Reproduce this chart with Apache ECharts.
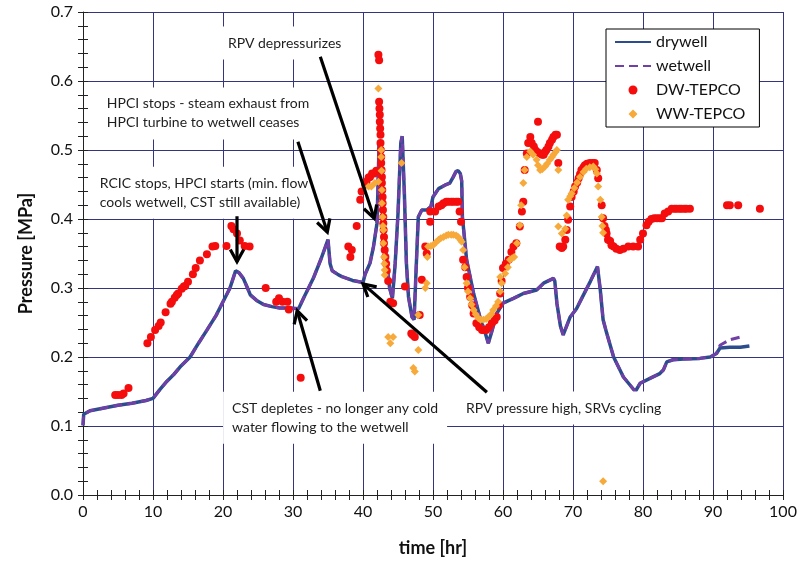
<!DOCTYPE html>
<html><head><meta charset="utf-8">
<script src="https://cdn.jsdelivr.net/npm/echarts@6/dist/echarts.min.js"></script>
<style>html,body{margin:0;padding:0;background:#fff}#c{width:800px;height:567px}</style>
</head><body><div id="c"></div><script>
const FONT = 'Lato, "Open Sans", sans-serif';

// ---- data (time [hr], pressure [MPa]) ----
const drywell = [[0,0.101],[0.1,0.117],[1,0.122],[3,0.126],[5,0.13],[7,0.133],[9,0.137],[10,0.14],[11,0.153],[12,0.165],[13,0.175],[14,0.187],[15.3,0.2],[16.5,0.22],[17.7,0.239],[19,0.26],[20,0.28],[21,0.3],[21.8,0.325],[22.3,0.322],[22.9,0.314],[23.5,0.3],[23.9,0.29],[24.8,0.282],[25.8,0.276],[27,0.273],[28.1,0.271],[29.5,0.271],[30.8,0.27],[31.5,0.285],[32.9,0.314],[34,0.342],[35,0.37],[35.3,0.335],[35.6,0.325],[36.5,0.319],[37.1,0.316],[38.5,0.311],[40,0.308],[40.3,0.32],[41,0.336],[41.5,0.36],[42,0.394],[42.15,0.45],[42.3,0.51],[42.6,0.47],[43.0,0.38],[43.4,0.336],[43.8,0.3],[44.2,0.285],[44.6,0.336],[45.0,0.408],[45.4,0.51],[45.6,0.52],[45.9,0.44],[46.2,0.336],[46.5,0.287],[47.0,0.258],[47.3,0.254],[47.6,0.33],[47.9,0.403],[48.4,0.413],[49.1,0.413],[49.7,0.418],[50.0,0.432],[50.8,0.444],[51.7,0.449],[52.4,0.452],[52.9,0.461],[53.3,0.469],[53.6,0.47],[53.9,0.466],[54.1,0.455],[54.2,0.403],[54.8,0.341],[55.8,0.292],[56.7,0.258],[57.4,0.237],[57.9,0.22],[58.4,0.237],[59.1,0.263],[60.0,0.278],[61.5,0.285],[62.9,0.292],[64,0.295],[64.8,0.297],[65.8,0.307],[67.2,0.314],[67.4,0.31],[67.7,0.278],[68.2,0.245],[68.6,0.232],[69.6,0.258],[70.5,0.27],[71.5,0.29],[72.5,0.31],[73.5,0.331],[73.9,0.297],[74.3,0.254],[74.8,0.235],[75.8,0.2],[77.2,0.171],[78.9,0.15],[79.6,0.162],[81,0.169],[82.4,0.176],[82.9,0.181],[83.4,0.193],[84.3,0.196],[85.8,0.197],[88.1,0.198],[89.6,0.2],[90.5,0.205],[91,0.213],[92.4,0.214],[93.9,0.214],[95.2,0.216]];

const wetwell = [[0,0.101],[0.1,0.117],[1,0.122],[3,0.126],[5,0.13],[7,0.133],[9,0.137],[10,0.14],[11,0.153],[12,0.165],[13,0.175],[14,0.187],[15.3,0.2],[16.5,0.22],[17.7,0.239],[19,0.26],[20,0.28],[21,0.3],[21.8,0.325],[22.3,0.322],[22.9,0.314],[23.5,0.3],[23.9,0.29],[24.8,0.282],[25.8,0.276],[27,0.273],[28.1,0.271],[29.5,0.271],[30.8,0.27],[31.5,0.285],[32.9,0.314],[34,0.342],[35,0.37],[35.3,0.335],[35.6,0.325],[36.5,0.319],[37.1,0.316],[38.5,0.311],[40,0.308],[40.3,0.32],[41,0.336],[41.5,0.36],[42,0.394],[42.15,0.45],[42.3,0.51],[42.6,0.47],[43.0,0.38],[43.4,0.336],[43.8,0.3],[44.2,0.285],[44.6,0.336],[45.0,0.408],[45.4,0.51],[45.6,0.52],[45.9,0.44],[46.2,0.336],[46.5,0.287],[47.0,0.258],[47.3,0.254],[47.6,0.33],[47.9,0.403],[48.4,0.413],[49.1,0.413],[49.7,0.418],[50.0,0.432],[50.8,0.444],[51.7,0.449],[52.4,0.452],[52.9,0.461],[53.3,0.469],[53.6,0.47],[53.9,0.466],[54.1,0.455],[54.2,0.403],[54.8,0.341],[55.8,0.292],[56.7,0.258],[57.4,0.237],[57.9,0.22],[58.4,0.237],[59.1,0.263],[60.0,0.278],[61.5,0.285],[62.9,0.292],[64,0.295],[64.8,0.297],[65.8,0.307],[67.2,0.314],[67.4,0.31],[67.7,0.278],[68.2,0.245],[68.6,0.232],[69.6,0.258],[70.5,0.27],[71.5,0.29],[72.5,0.31],[73.5,0.331],[73.9,0.297],[74.3,0.254],[74.8,0.235],[75.8,0.2],[77.2,0.171],[78.9,0.15],[79.6,0.162],[81,0.169],[82.4,0.176],[82.9,0.181],[83.4,0.193],[84.3,0.196],[85.8,0.197],[88.1,0.198],[89.6,0.2],[90.5,0.205],[91,0.217],[92.4,0.225],[93.9,0.229]];

const dwTepco = [[4.6,0.145],[5.0,0.145],[5.5,0.145],[5.8,0.147],[6.5,0.155],[9.2,0.22],[9.7,0.229],[10.3,0.239],[10.8,0.245],[11.1,0.25],[11.8,0.265],[12.5,0.277],[12.7,0.28],[13.1,0.286],[13.4,0.29],[13.6,0.292],[14.1,0.299],[14.4,0.302],[14.6,0.303],[15.0,0.309],[15.7,0.32],[16.1,0.329],[16.7,0.34],[17.7,0.349],[18.5,0.36],[18.9,0.361],[20.5,0.361],[21.2,0.39],[21.5,0.385],[22.0,0.379],[22.4,0.369],[23.1,0.361],[23.8,0.36],[26.1,0.3],[27.6,0.28],[28.0,0.285],[28.5,0.28],[29.2,0.28],[29.4,0.269],[31.1,0.17],
[37.9,0.36],[38.2,0.345],[38.4,0.355],[39.1,0.39],[39.6,0.428],[39.8,0.44],[40.3,0.45],[40.5,0.454],[40.8,0.46],[41.0,0.461],[41.3,0.466],[41.6,0.466],[41.9,0.47],[42.2,0.638],[42.3,0.63],[42.3,0.57],[42.35,0.56],[42.4,0.551],[42.4,0.541],[42.45,0.531],[42.5,0.522],[42.5,0.51],[42.55,0.5],[42.6,0.49],[42.6,0.481],[42.65,0.471],[42.7,0.461],[42.7,0.452],[42.75,0.442],[42.8,0.432],[42.8,0.423],[42.85,0.413],[42.9,0.403],[42.9,0.394],[42.95,0.384],[43.0,0.374],[43.0,0.365],[43.1,0.355],[43.2,0.345],[43.3,0.335],[43.4,0.325],[43.6,0.31],[43.9,0.28],[44.3,0.278],[46.0,0.302],[46.9,0.234],[47.1,0.232],[47.4,0.229],[48.1,0.261],[48.4,0.312],[48.9,0.36],[49.1,0.35],[49.6,0.396],[49.6,0.411],[50.3,0.411],[50.8,0.418],[51.2,0.42],[51.5,0.423],[51.9,0.425],[52.2,0.425],[52.6,0.425],[52.9,0.425],[53.3,0.425],[53.6,0.425],[53.8,0.411],[54.0,0.396],[54.3,0.341],[54.6,0.33],[54.8,0.316],[55.0,0.3],[55.3,0.287],[55.6,0.275],[55.8,0.263],[56.2,0.249],[56.6,0.243],[57.0,0.239],[57.3,0.239],[57.6,0.239],[58.0,0.243],[58.4,0.249],[58.8,0.253],[59.1,0.258],[59.4,0.275],[59.6,0.292],[59.8,0.31],[60.0,0.329],[60.4,0.335],[60.8,0.341],[61.2,0.352],[61.5,0.36],[61.9,0.365],[62.4,0.389],[62.7,0.411],[62.9,0.425],[63.1,0.471],[63.4,0.495],[63.6,0.51],[63.9,0.519],[64.1,0.51],[64.4,0.505],[64.6,0.5],[65.0,0.541],[64.9,0.497],[65.3,0.495],[65.6,0.493],[65.8,0.493],[66.0,0.497],[66.2,0.5],[66.5,0.505],[66.7,0.51],[67.0,0.515],[67.2,0.519],[67.5,0.522],[67.7,0.522],[67.9,0.481],
[68.1,0.36],[68.4,0.358],[68.6,0.36],[68.9,0.37],[69.1,0.384],[69.3,0.399],[69.6,0.418],[69.8,0.432],[70.1,0.44],[70.3,0.447],[70.6,0.453],[70.8,0.459],[71.0,0.465],[71.2,0.471],[71.5,0.475],[71.7,0.478],[72.0,0.48],[72.4,0.481],[72.8,0.481],[73.1,0.481],[73.4,0.471],[73.6,0.459],[74.1,0.42],[74.3,0.401],[74.5,0.39],[74.7,0.384],[74.8,0.379],[75.0,0.37],[75.3,0.368],[75.5,0.362],[75.8,0.36],[76.2,0.357],[76.7,0.355],[77.2,0.357],[77.9,0.36],[78.6,0.36],[79.3,0.36],[79.6,0.37],[80.0,0.379],[80.5,0.391],[80.8,0.396],[81.2,0.4],[81.6,0.401],[82.0,0.401],[82.4,0.401],[82.7,0.401],[83.1,0.408],[83.6,0.411],[84.1,0.415],[84.5,0.415],[84.8,0.415],[85.2,0.415],[85.5,0.415],[85.9,0.415],[86.2,0.415],[86.7,0.415],[92.0,0.42],[92.4,0.42],[93.6,0.42],[96.7,0.415]];

const wwTepco = [[40.8,0.447],[41.2,0.447],[41.7,0.452],[42.2,0.454],[42.2,0.589],[42.6,0.5],[42.6,0.49],[42.65,0.47],[42.7,0.442],[42.7,0.423],[42.8,0.403],[42.85,0.39],[42.9,0.384],[42.9,0.365],[43.0,0.345],[43.05,0.335],[43.1,0.326],[43.1,0.319],[43.6,0.229],[43.9,0.22],[44.3,0.229],[45.5,0.481],[47.2,0.184],[47.4,0.179],[47.9,0.21],[47.9,0.261],[48.9,0.3],[49.1,0.307],[49.2,0.345],[49.3,0.36],[49.7,0.361],[50.0,0.362],[50.4,0.366],[50.8,0.37],[51.1,0.372],[51.5,0.374],[51.9,0.376],[52.2,0.377],[52.6,0.377],[52.9,0.377],[53.3,0.376],[53.6,0.374],[53.9,0.37],[54.1,0.367],[54.3,0.355],[54.5,0.33],[54.8,0.307],[55.0,0.295],[55.3,0.285],[55.5,0.276],[55.8,0.268],[56.1,0.262],[56.5,0.256],[56.8,0.254],[57.2,0.254],[57.6,0.255],[57.9,0.258],[58.3,0.262],[58.6,0.268],[59.0,0.274],[59.3,0.28],[59.6,0.295],[59.6,0.316],[59.8,0.307],[60.3,0.321],[60.7,0.33],[61.0,0.341],[61.3,0.343],[61.6,0.345],[62.0,0.365],[62.4,0.391],[62.6,0.42],[62.9,0.452],[63.1,0.471],[63.4,0.49],[63.9,0.498],[64.3,0.493],[64.8,0.486],[65.0,0.478],[65.3,0.471],[65.6,0.472],[66.0,0.476],[66.3,0.48],[66.7,0.486],[67.0,0.49],[67.2,0.493],[67.5,0.497],[67.7,0.5],[67.9,0.471],[67.9,0.389],[68.4,0.379],[68.9,0.386],[69.1,0.405],[69.3,0.428],[69.6,0.433],[69.8,0.437],[70.2,0.445],[70.6,0.453],[71.0,0.461],[71.5,0.468],[71.9,0.473],[72.4,0.475],[72.9,0.476],[73.2,0.472],[73.4,0.466],[73.6,0.447],[73.9,0.428],[74.1,0.403],[74.2,0.39],[74.3,0.38],[74.3,0.02]];

// annotations (anchor = left edge / vertical middle, in data coords)
const notes = [
  {text:'RPV depressurizes', at:[20.7,0.655]},
  {text:'HPCI stops - steam exhaust from\nHPCI turbine to wetwell ceases', at:[3.4,0.553]},
  {text:'RCIC stops, HPCI starts (min. flow\ncools wetwell, CST still available)', at:[2.4,0.438]},
  {text:'CST depletes - no longer any cold\nwater flowing to the wetwell', at:[21.3,0.112]},
  {text:'RPV pressure high, SRVs cycling', at:[54.7,0.126]}
];
const arrows = [
  {from:[33.9,0.635], to:[41.6,0.401]},
  {from:[30.7,0.512], to:[34.9,0.381]},
  {from:[22.0,0.404], to:[22.0,0.338]},
  {from:[33.9,0.151], to:[30.6,0.267]},
  {from:[57.7,0.149], to:[40.0,0.306]}
];

const GRID = '#35357d';
const chart = echarts.init(document.getElementById('c'), null, {renderer:'canvas'});
const baseX = {type:'value', min:0, max:100, interval:10};
const baseY = {type:'value', min:0, max:0.7, interval:0.1};
const option = {
  animation:false,
  backgroundColor:'#fff',
  textStyle:{fontFamily:FONT},
  grid:{left:83, right:17, top:12, bottom:72},
  legend:{
    orient:'vertical', left:606, top:29,
    backgroundColor:'#fff', borderColor:'#000', borderWidth:1,
    padding:[5,14,5,8], itemGap:8, itemWidth:36, itemHeight:9,
    textStyle:{fontSize:16, color:'#111', fontFamily:FONT},
    data:[
      {name:'drywell', itemStyle:{opacity:0}},
      {name:'wetwell', itemStyle:{opacity:0}},
      {name:'DW-TEPCO'},
      {name:'WW-TEPCO', icon:'path://M0,-1L1,0L0,1L-1,0Z'}
    ]
  },
  xAxis:[
    Object.assign({}, baseX, {
      name:'time [hr]', nameLocation:'middle', nameGap:44,
      nameTextStyle:{fontSize:18, fontWeight:'bold', color:'#111', fontFamily:FONT},
      axisLine:{lineStyle:{color:'#222', width:1}},
      axisTick:{show:true, length:5, lineStyle:{color:'#222'}},
      minorTick:{show:true, splitNumber:5, length:5, lineStyle:{color:'#222'}},
      axisLabel:{fontSize:16, color:'#111', margin:9, fontFamily:FONT},
      splitLine:{show:true, lineStyle:{color:GRID, width:1}}
    }),
    Object.assign({}, baseX, {
      position:'bottom',
      axisLine:{show:false},
      axisTick:{show:true, inside:true, length:5, lineStyle:{color:'#222'}},
      minorTick:{show:true, splitNumber:5, length:5, lineStyle:{color:'#222'}},
      axisLabel:{show:false}, splitLine:{show:false}
    })
  ],
  yAxis:[
    Object.assign({}, baseY, {
      name:'Pressure [MPa]', nameLocation:'middle', nameGap:48,
      nameTextStyle:{fontSize:18, fontWeight:'bold', color:'#111', fontFamily:FONT},
      axisLine:{show:true, lineStyle:{color:'#222', width:1}},
      axisTick:{show:true, length:5, lineStyle:{color:'#222'}},
      minorTick:{show:true, splitNumber:5, length:5, lineStyle:{color:'#222'}},
      axisLabel:{fontSize:16, color:'#111', margin:10, fontFamily:FONT, formatter:v=>v.toFixed(1)},
      splitLine:{show:true, lineStyle:{color:GRID, width:1}}
    }),
    Object.assign({}, baseY, {
      position:'left',
      axisLine:{show:false},
      axisTick:{show:true, inside:true, length:5, lineStyle:{color:'#222'}},
      minorTick:{show:true, splitNumber:5, length:5, lineStyle:{color:'#222'}},
      axisLabel:{show:false}, splitLine:{show:false}
    })
  ],
  series:[
    {name:'drywell', type:'line', data:drywell, showSymbol:false, symbol:'none',
     lineStyle:{color:'#2d4c8e', width:3.5}, itemStyle:{color:'#2d4c8e'}, z:2},
    {name:'wetwell', type:'line', data:wetwell, showSymbol:false, symbol:'none',
     lineStyle:{color:'#7040a6', width:3, type:[9,5]}, itemStyle:{color:'#7040a6'}, z:3},
    {name:'DW-TEPCO', type:'scatter', data:dwTepco, symbol:'circle', symbolSize:8,
     itemStyle:{color:'#f50d0d', opacity:1}, z:4},
    {name:'WW-TEPCO', type:'scatter', data:wwTepco, symbol:'diamond', symbolSize:8,
     itemStyle:{color:'#f7a93a', opacity:1}, z:5}
  ]
};
chart.setOption(option);

const toPx = p => chart.convertToPixel({xAxisIndex:0, yAxisIndex:0}, p);
const graphics = [];
notes.forEach(n => {
  const p = toPx(n.at);
  graphics.push({type:'text', x:p[0]-9, y:p[1], z:100,
    style:{text:n.text, fill:'#1e1e1e', font:'14px ' + FONT, lineHeight:19,
      backgroundColor:'#fff', padding:[7,9,7,9], verticalAlign:'middle', align:'left'}});
});
arrows.forEach(a => {
  const s = toPx(a.from), t = toPx(a.to);
  const ang = Math.atan2(t[1]-s[1], t[0]-s[0]);
  const L = 14, w = 0.5;
  const p1 = [t[0] - L*Math.cos(ang - w), t[1] - L*Math.sin(ang - w)];
  const p2 = [t[0] - L*Math.cos(ang + w), t[1] - L*Math.sin(ang + w)];
  graphics.push({type:'line', z:110, shape:{x1:s[0], y1:s[1], x2:t[0], y2:t[1]},
    style:{stroke:'#000', lineWidth:3.2}});
  graphics.push({type:'polyline', z:110, shape:{points:[p1, t, p2]},
    style:{stroke:'#000', lineWidth:3.2, fill:null, lineJoin:'miter'}});
});
chart.setOption({graphic:graphics});
</script></body></html>
